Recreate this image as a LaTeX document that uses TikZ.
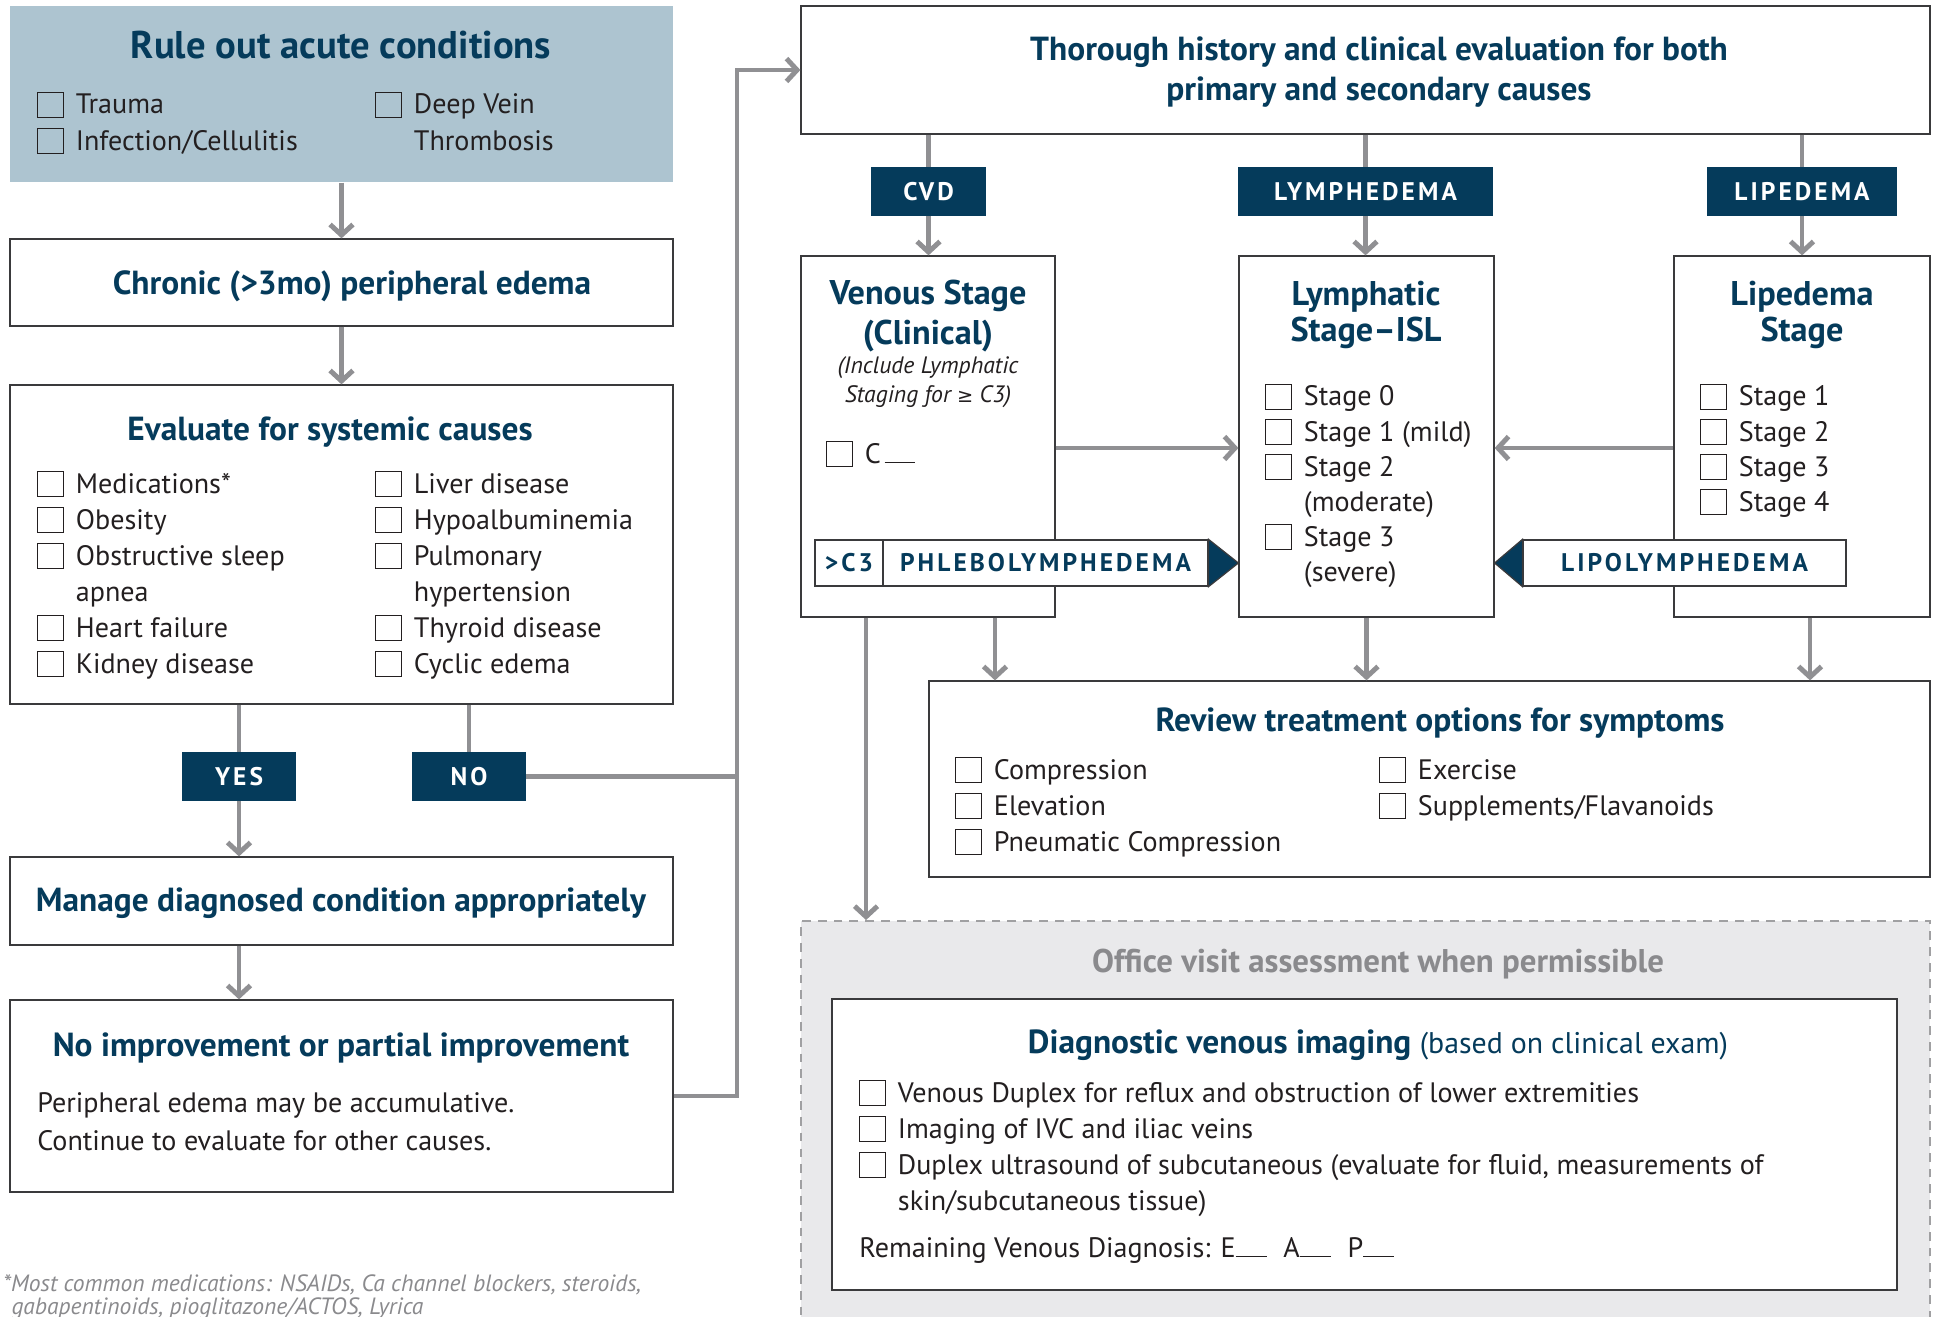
\documentclass[tikz,border=0pt]{standalone}
\usepackage{xcolor}
\usepackage{fontspec}
\setmainfont{PT Sans}
\newfontfamily\spacedfont{PT Sans}[LetterSpace=12]
\newfontfamily\symfont{DejaVu Sans}
\usepackage{tikz}
\usetikzlibrary{arrows.meta}
\usetikzlibrary{positioning}
\usetikzlibrary{fit}

\definecolor{navy}{HTML}{053B5B}
\definecolor{paleblue}{HTML}{ADC4D0}
\definecolor{flowgray}{HTML}{909093}
\definecolor{ink}{HTML}{231F20}
\definecolor{frame}{HTML}{3A3A3C}
\definecolor{officebg}{HTML}{E9E9EB}
\definecolor{officeline}{HTML}{A0A0A2}
\definecolor{notegray}{HTML}{8A8A8D}

\newcommand{\chk}{\raisebox{-0.1em}{\setlength{\fboxsep}{0pt}\setlength{\fboxrule}{0.6pt}\fbox{\rule{0pt}{0.86em}\rule{0.86em}{0pt}}}}
\newcommand{\blank}{\rule{1.1em}{0.6pt}}
\newcommand{\cbcols}{@{}l@{\hspace{7pt}}l@{}}

\tikzset{
  box/.style = {draw=frame, line width=0.7pt, fill=white, inner sep=0pt},
  tag/.style = {fill=navy, inner sep=0pt, minimum height=0.98cm, text=white, font=\spacedfont\bfseries\fontsize{14.5}{16}\selectfont},
  banner/.style = {draw=frame, line width=0.7pt, fill=white, inner sep=0pt, minimum height=0.92cm, text=navy, font=\spacedfont\bfseries\fontsize{14.5}{16}\selectfont},
  head/.style = {text=navy, font=\bfseries\fontsize{19}{23}\selectfont, align=center, inner sep=0pt},
  txt/.style = {text=ink, font=\fontsize{16}{20.5}\selectfont, inner sep=0pt, align=left},
  flow/.style = {draw=flowgray, line width=2.8pt},
  arr/.style = {flow, -{Straight Barb[length=6pt, width=13pt]}}
}

\begin{document}
\begin{tikzpicture}[x=0.02cm, y=-0.02cm]
\useasboundingbox (0,0) rectangle (1939,1317);

% left column
\node [box, draw=none, fill=paleblue, fit={(10,6) (673,182)}] (rule) {};
\node [head, font=\bfseries\fontsize{22}{24}\selectfont, anchor=base] (ruletitle) at (341,59) {Rule out acute conditions};
\node [txt, anchor=base west] (rulea) at (37,114) {\begin{tabular}[t]{\cbcols}
  \chk & Trauma\\ \chk & Infection/Cellulitis\end{tabular}};
\node [txt, anchor=base west] (ruleb) at (375,114) {\begin{tabular}[t]{\cbcols}
  \chk & Deep Vein\\ & Thrombosis\end{tabular}};

\node [box, fit={(10,239) (673,326)}] (chronic) {};
\node [head, anchor=base] (chronictext) at (352,295) {Chronic (>3mo) peripheral edema};

\node [box, fit={(10,385) (673,704)}] (eval) {};
\node [head, anchor=base] (evaltitle) at (330,440) {Evaluate for systemic causes};
\node [txt, anchor=base west] (evala) at (37,493) {\begin{tabular}[t]{\cbcols}
  \chk & Medications*\\ \chk & Obesity\\ \chk & Obstructive sleep\\ & apnea\\
  \chk & Heart failure\\ \chk & Kidney disease\end{tabular}};
\node [txt, anchor=base west] (evalb) at (375,493) {\begin{tabular}[t]{\cbcols}
  \chk & Liver disease\\ \chk & Hypoalbuminemia\\ \chk & Pulmonary\\ & hypertension\\
  \chk & Thyroid disease\\ \chk & Cyclic edema\end{tabular}};

\node [tag, minimum width=2.28cm] (yes) at (239,776.5) {YES};
\node [tag, minimum width=2.28cm] (no) at (469,776.5) {NO};

\node [box, fit={(10,857) (673,945)}] (manage) {};
\node [head, anchor=base] (managetext) at (341,911) {Manage diagnosed condition appropriately};

\node [box, fit={(10,1000) (673,1192)}] (noimp) {};
\node [head, anchor=base] (noimptitle) at (341,1056) {No improvement or partial improvement};
\node [txt, font=\fontsize{16}{21.6}\selectfont, anchor=base west] (noimptext) at (37,1150)
  {Peripheral edema may be accumulative.\\Continue to evaluate for other causes.};

\node [text=notegray, font=\itshape\fontsize{13.4}{12.6}\selectfont, inner sep=0pt, align=left, anchor=base west] (footnote) at (3,1314)
  {*Most common medications: NSAIDs, Ca channel blockers, steroids,\\\hspace{0.35em}gabapentinoids, pioglitazone/ACTOS, Lyrica};

% right column
\node [box, fit={(801,6) (1930,134)}] (thorough) {};
\node [head, font=\bfseries\fontsize{19}{23.3}\selectfont, anchor=base] (thoroughtext) at (1379,101)
  {Thorough history and clinical evaluation for both\\primary and secondary causes};

\node [tag, minimum width=2.3cm] (cvd) at (928.5,191.5) {CVD};
\node [tag, minimum width=5.1cm] (lymtag) at (1365.5,191.5) {LYMPHEDEMA};
\node [tag, minimum width=3.8cm] (liptag) at (1802,191.5) {LIPEDEMA};

\node [box, fit={(801,256) (1055,617)}] (venous) {};
\node [head, font=\bfseries\fontsize{19.5}{22.8}\selectfont, anchor=base] (venoustitle) at (928,345) {Venous Stage\\(Clinical)};
\node [txt, font=\itshape\fontsize{13.5}{16}\selectfont, align=center, anchor=base] (venousnote) at (928,402)
  {(Include Lymphatic\\Staging for {\symfont\upshape\fontsize{11}{16}\selectfont≥} C3)};
\node [txt, anchor=base west] (venousc) at (826,463) {\chk\hspace{7pt}C\hspace{2pt}\blank};

\node [box, fit={(1239,256) (1494,617)}] (lymph) {};
\node [head, font=\bfseries\fontsize{19.5}{21}\selectfont, anchor=base] (lymphtitle) at (1366,342) {Lymphatic\\Stage–ISL};
\node [txt, font=\fontsize{16}{20}\selectfont, anchor=base west] (lymphlist) at (1265,406) {\begin{tabular}[t]{\cbcols}
  \chk & Stage 0\\ \chk & Stage 1 (mild)\\ \chk & Stage 2\\ & (moderate)\\
  \chk & Stage 3\\ & (severe)\end{tabular}};

\node [box, fit={(1674,256) (1930,617)}] (lipedema) {};
\node [head, font=\bfseries\fontsize{19.5}{21}\selectfont, anchor=base] (lipedematitle) at (1802,342) {Lipedema\\Stage};
\node [txt, font=\fontsize{16}{20}\selectfont, anchor=base west] (lipedemalist) at (1700,406) {\begin{tabular}[t]{\cbcols}
  \chk & Stage 1\\ \chk & Stage 2\\ \chk & Stage 3\\ \chk & Stage 4\end{tabular}};

% banners across the stage boxes
\node [banner, minimum width=1.36cm] (c3) at (849,563) {>C3};
\node [banner, minimum width=6.5cm] (phleb) at (1045.5,563) {PHLEBOLYMPHEDEMA};
\filldraw [fill=navy, draw=frame, line width=0.7pt] (phleb.north east) -- (lymph.west |- phleb.east) -- (phleb.south east) -- cycle;
\node [banner, minimum width=6.46cm] (lipo) at (1684.5,563) {LIPOLYMPHEDEMA\hspace{0.4cm}};
\filldraw [fill=navy, draw=frame, line width=0.7pt] (lipo.north west) -- (lymph.east |- lipo.west) -- (lipo.south west) -- cycle;

\node [box, fit={(929,681) (1930,877)}] (review) {};
\node [head, anchor=base] (reviewtitle) at (1440,731) {Review treatment options for symptoms};
\node [txt, anchor=base west] (reviewa) at (955,779) {\begin{tabular}[t]{\cbcols}
  \chk & Compression\\ \chk & Elevation\\ \chk & Pneumatic Compression\end{tabular}};
\node [txt, anchor=base west] (reviewb) at (1379,779) {\begin{tabular}[t]{\cbcols}
  \chk & Exercise\\ \chk & Supplements/Flavanoids\end{tabular}};

% office visit
\node [fill=officebg, draw=officeline, line width=1.1pt, dash pattern=on 5pt off 4pt, inner sep=0pt, fit={(801,921) (1930,1345)}] (office) {};
\node [head, text=notegray, font=\bfseries\fontsize{18.7}{20}\selectfont, anchor=base] (officetitle) at (1378,972) {Office visit assessment when permissible};
\node [box, fit={(832,999) (1897,1290)}] (imaging) {};
\node [head, anchor=base] (imagingtitle) at (1378,1053) {Diagnostic venous imaging {\mdseries\fontsize{17}{20}\selectfont(based on clinical exam)}};
\node [txt, anchor=base west] (imaginglist) at (859,1102) {\begin{tabular}[t]{\cbcols}
  \chk & Venous Duplex for reflux and obstruction of lower extremities\\
  \chk & Imaging of IVC and iliac veins\\
  \chk & Duplex ultrasound of subcutaneous (evaluate for fluid, measurements of\\
  & skin/subcutaneous tissue)\end{tabular}};
\node [txt, anchor=base west] (remaining) at (859,1257) {Remaining Venous Diagnosis: E\blank\hspace{0.6em}A\blank\hspace{0.6em}P\blank};

% connectors
\coordinate (turn) at (737,70);
\coordinate (cross) at (0,448);
\coordinate (vdown) at ([xshift=1.34cm]venous.south);
\coordinate (vlong) at ([xshift=-1.24cm]venous.south);
\coordinate (pdown) at ([xshift=0.16cm]lipedema.south);

\draw [arr] (rule) -- (chronic);
\draw [arr] (chronic) -- (eval);
\draw [flow] (yes.north |- eval.south) -- (yes);
\draw [flow] (no.north |- eval.south) -- (no);
\draw [arr] (yes) -- (yes |- manage.north);
\draw [arr] (yes |- manage.south) -- (yes |- noimp.north);
\draw [flow] (no.east) -- (no.east -| turn);
\draw [arr] (noimp.east) -| (turn) -- (thorough.west);

\draw [flow] (cvd.north |- thorough.south) -- (cvd);
\draw [flow] (lymtag.north |- thorough.south) -- (lymtag);
\draw [flow] (liptag.north |- thorough.south) -- (liptag);
\draw [arr] (cvd) -- (cvd |- venous.north);
\draw [arr] (lymtag) -- (lymtag |- lymph.north);
\draw [arr] (liptag) -- (liptag |- lipedema.north);

\draw [arr] (venous.east |- cross) -- (lymph.west |- cross);
\draw [arr] (lipedema.west |- cross) -- (lymph.east |- cross);

\draw [arr] (vdown) -- (vdown |- review.north);
\draw [arr] (lymph.south) -- (lymph.south |- review.north);
\draw [arr] (pdown) -- (pdown |- review.north);
\draw [arr] (vlong) -- (vlong |- office.north);
\end{tikzpicture}
\end{document}
